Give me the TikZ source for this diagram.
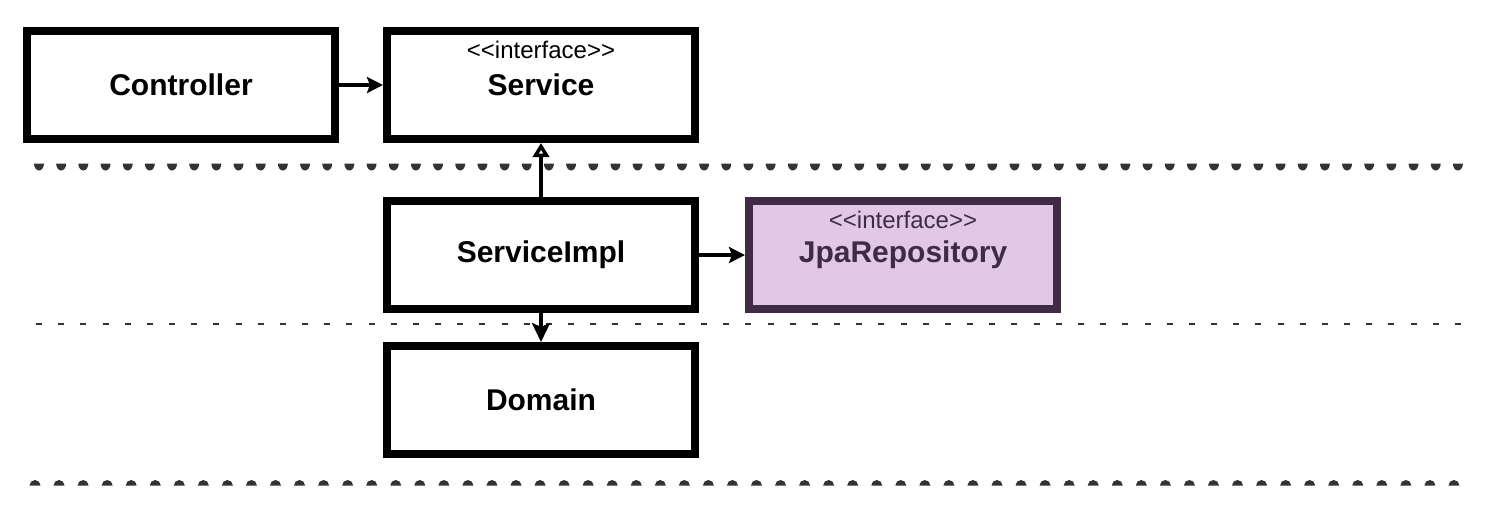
\documentclass[tikz,border=0pt]{standalone}
\usepackage{fontspec}
\setmainfont{Liberation Sans}
\usetikzlibrary{arrows.meta, positioning}
\definecolor{dotGrey}{HTML}{333333}
\definecolor{repoFill}{HTML}{E1C9E5}
\definecolor{repoLine}{HTML}{3F2A47}

\begin{document}
\begin{tikzpicture}[x=0.5pt, y=-0.5pt,
		box/.style={draw=black, line width=4pt, fill=white, minimum width=154pt, minimum height=54pt, inner sep=0pt, font=\fontsize{15pt}{18pt}\selectfont\bfseries},
		repobox/.style={box, draw=repoLine, fill=repoFill, text=repoLine},
		stereo/.style={inner sep=0pt, font=\fontsize{12pt}{14pt}\selectfont},
		arr/.style={line width=2.4pt, -{Stealth[length=8pt, width=8pt, inset=1.5pt]}},
		implements/.style={line width=2.2pt, -{Triangle[open, length=7pt, width=8pt, fill=white]}}]
		\useasboundingbox (0,0) rectangle (1502,516);
		% Layer separators (dotted, dashed, dotted)
		\foreach \i in {0,...,64}
			\fill[dotGrey] ({34+22.17*\i},163.5) arc[start angle=180, end angle=0, x radius=5, y radius=7] -- cycle;
		\foreach \i in {0,...,64}
			\draw[dotGrey, line width=1pt] ({36+22.17*\i},323.5) -- ++(6,0);
		\foreach \i in {0,...,59}
			\fill[dotGrey] ({29.5+24.05*\i},485.5) arc[start angle=180, end angle=360, radius=5.5] -- cycle;
		% Boxes
		\node[box] (ctrl) at (181,85) {Controller};
		\node[box] (svc) at (541,85) {Service};
		\node[stereo] (svcTag) at (541,50) {<{}<interface>{}>};
		\node[box] (impl) at (541,255) {ServiceImpl};
		\node[repobox] (repo) at (903,255) {JpaRepository};
		\node[stereo, text=repoLine] (repoTag) at (903,220) {<{}<interface>{}>};
		\node[box] (dom) at (541,400) {Domain};
		% Connectors
		\draw[arr] (ctrl) -- (svc);
		\draw[implements] (impl) -- (svc);
		\draw[arr] (impl) -- (repo);
		\draw[arr, -{Stealth[length=9.5pt, width=9pt, inset=2pt]}] (impl) -- (dom);
	\end{tikzpicture}
\end{document}
